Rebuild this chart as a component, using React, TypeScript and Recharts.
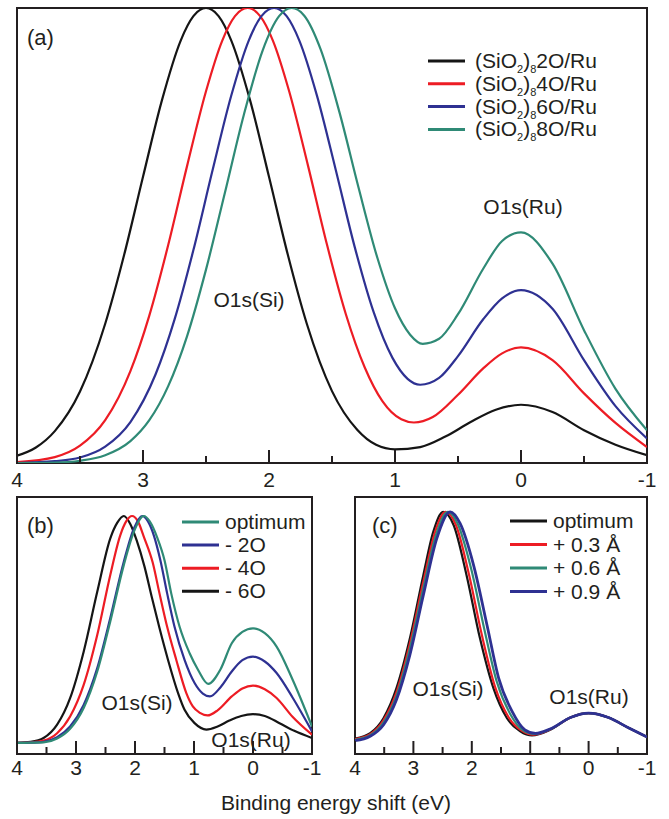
import { Line, LineChart, ReferenceArea, XAxis, YAxis } from "recharts";

type Pt = [number, number];

const INK = "#231f20";
const BLACK = "#151515";
const RED = "#ed1c24";
const BLUE = "#2e3192";
const GREEN = "#2f8a76";
const FONT = '"Liberation Sans", Arial, Helvetica, sans-serif';

const majorTicks = [4, 3, 2, 1, 0, -1];
const minorTicks = [3.5, 2.5, 1.5, 0.5, -0.5];

// (a) intensity vs binding energy shift, normalised to the frame height
const a2O: Pt[] = [
  [4, 0.016], [3.85, 0.034], [3.7, 0.07], [3.5, 0.157], [3.3, 0.306], [3.15, 0.457],
  [3, 0.629], [2.85, 0.797], [2.7, 0.929], [2.6, 0.982], [2.5, 1], [2.4, 0.982],
  [2.3, 0.929], [2.15, 0.797], [2, 0.629], [1.85, 0.457], [1.7, 0.306], [1.5, 0.158],
  [1.3, 0.073], [1.15, 0.04], [1, 0.03], [0.8, 0.035], [0.6, 0.058], [0.4, 0.09],
  [0.2, 0.117], [0, 0.128], [-0.25, 0.112], [-0.5, 0.072], [-0.75, 0.04], [-1, 0.017],
];
const a4O: Pt[] = [
  [4, 0.002], [3.7, 0.013], [3.5, 0.038], [3.3, 0.094], [3.1, 0.202], [2.95, 0.324],
  [2.8, 0.479], [2.65, 0.653], [2.5, 0.817], [2.37, 0.929], [2.27, 0.982], [2.17, 1],
  [2.07, 0.982], [1.97, 0.929], [1.84, 0.817], [1.69, 0.653], [1.54, 0.48], [1.39, 0.327],
  [1.24, 0.21], [1.1, 0.136], [0.95, 0.096], [0.85, 0.089], [0.7, 0.101], [0.5, 0.15],
  [0.3, 0.208], [0.15, 0.241], [0, 0.254], [-0.25, 0.226], [-0.5, 0.153], [-0.75, 0.088],
  [-1, 0.035],
];
const a6O: Pt[] = [
  [4, 0], [3.7, 0.004], [3.5, 0.012], [3.3, 0.036], [3.1, 0.09], [2.9, 0.195],
  [2.75, 0.315], [2.6, 0.468], [2.45, 0.641], [2.3, 0.807], [2.16, 0.929], [2.06, 0.982],
  [1.96, 1], [1.86, 0.982], [1.76, 0.929], [1.62, 0.808], [1.47, 0.644], [1.32, 0.475],
  [1.17, 0.332], [1.02, 0.231], [0.9, 0.185], [0.8, 0.172], [0.65, 0.187], [0.5, 0.235],
  [0.3, 0.316], [0.15, 0.362], [0, 0.38], [-0.25, 0.339], [-0.5, 0.226], [-0.75, 0.125],
  [-1, 0.054],
];
const a8O: Pt[] = [
  [4, 0], [3.7, 0.001], [3.5, 0.005], [3.3, 0.017], [3.1, 0.048], [2.95, 0.094],
  [2.8, 0.169], [2.65, 0.279], [2.5, 0.425], [2.35, 0.594], [2.2, 0.765], [2.05, 0.907],
  [1.92, 0.982], [1.82, 1], [1.72, 0.983], [1.59, 0.909], [1.44, 0.77], [1.29, 0.606],
  [1.14, 0.451], [1, 0.34], [0.88, 0.282], [0.78, 0.262], [0.65, 0.273], [0.5, 0.327],
  [0.3, 0.427], [0.15, 0.488], [0, 0.507], [-0.25, 0.438], [-0.5, 0.292], [-0.75, 0.163],
  [-1, 0.072],
];

// (b) removing O atoms
const bOpt: Pt[] = [
  [4, 0.043], [3.77, 0.044], [3.55, 0.045], [3.32, 0.06], [3.1, 0.098], [2.87, 0.179],
  [2.64, 0.321], [2.42, 0.515], [2.19, 0.735], [2.02, 0.864], [1.85, 0.926], [1.75, 0.905],
  [1.62, 0.84], [1.5, 0.754], [1.386, 0.625], [1.244, 0.495], [1.074, 0.392], [0.93, 0.327],
  [0.76, 0.273], [0.55, 0.33], [0.36, 0.431], [0.18, 0.475], [0, 0.489], [-0.2, 0.47],
  [-0.4, 0.418], [-0.67, 0.29], [-1, 0.107],
];
const bM2O: Pt[] = [
  [4, 0.043], [3.77, 0.044], [3.55, 0.047], [3.32, 0.065], [3.1, 0.107], [2.87, 0.191],
  [2.64, 0.334], [2.42, 0.528], [2.19, 0.748], [2.02, 0.877], [1.88, 0.926], [1.78, 0.905],
  [1.68, 0.85], [1.57, 0.754], [1.455, 0.625], [1.33, 0.495], [1.16, 0.366], [0.99, 0.276],
  [0.85, 0.235], [0.73, 0.224], [0.55, 0.26], [0.36, 0.321], [0.18, 0.365], [0, 0.379],
  [-0.2, 0.36], [-0.4, 0.315], [-0.67, 0.22], [-1, 0.088],
];
const bM4O: Pt[] = [
  [4, 0.043], [3.77, 0.045], [3.55, 0.052], [3.32, 0.081], [3.1, 0.146], [2.87, 0.269],
  [2.64, 0.463], [2.42, 0.696], [2.25, 0.851], [2.15, 0.905], [2.05, 0.926], [1.95, 0.905],
  [1.85, 0.845], [1.7, 0.745], [1.585, 0.625], [1.455, 0.495], [1.3, 0.366], [1.13, 0.237],
  [1.02, 0.185], [0.9, 0.16], [0.77, 0.15], [0.6, 0.17], [0.36, 0.224], [0.18, 0.255],
  [0, 0.266], [-0.2, 0.252], [-0.4, 0.218], [-0.67, 0.145], [-1, 0.075],
];
const bM6O: Pt[] = [
  [4, 0.043], [3.77, 0.047], [3.55, 0.062], [3.32, 0.114], [3.1, 0.217], [2.87, 0.398],
  [2.64, 0.631], [2.42, 0.838], [2.3, 0.9], [2.19, 0.926], [2.08, 0.895], [1.97, 0.83],
  [1.84, 0.73], [1.72, 0.615], [1.585, 0.49], [1.44, 0.366], [1.27, 0.237], [1.16, 0.172],
  [0.99, 0.12], [0.79, 0.095], [0.6, 0.107], [0.4, 0.13], [0.2, 0.148], [0, 0.155],
  [-0.2, 0.148], [-0.45, 0.12], [-0.7, 0.09], [-1, 0.062],
];

// (c) stretching the film
const cOpt: Pt[] = [
  [4, 0.06], [3.74, 0.081], [3.51, 0.14], [3.29, 0.256], [3.06, 0.45], [2.83, 0.696],
  [2.66, 0.864], [2.49, 0.942], [2.31, 0.89], [2.09, 0.696], [1.86, 0.45], [1.63, 0.256],
  [1.4, 0.14], [1.17, 0.088], [0.97, 0.072], [0.66, 0.094], [0.31, 0.142], [0, 0.159],
  [-0.34, 0.142], [-0.69, 0.101], [-1, 0.066],
];
const c03: Pt[] = [
  [4, 0.058], [3.74, 0.077], [3.51, 0.132], [3.29, 0.24], [3.06, 0.43], [2.83, 0.67],
  [2.62, 0.87], [2.45, 0.942], [2.27, 0.89], [2.05, 0.7], [1.82, 0.455], [1.6, 0.26],
  [1.37, 0.143], [1.14, 0.09], [0.95, 0.075], [0.66, 0.095], [0.31, 0.142], [0, 0.159],
  [-0.34, 0.142], [-0.69, 0.101], [-1, 0.066],
];
const c06: Pt[] = [
  [4, 0.055], [3.74, 0.073], [3.51, 0.123], [3.29, 0.225], [3.06, 0.41], [2.83, 0.645],
  [2.61, 0.855], [2.41, 0.942], [2.24, 0.895], [2.01, 0.72], [1.78, 0.48], [1.57, 0.28],
  [1.34, 0.155], [1.12, 0.092], [0.93, 0.078], [0.66, 0.096], [0.31, 0.142], [0, 0.159],
  [-0.34, 0.142], [-0.69, 0.101], [-1, 0.066],
];
const c09: Pt[] = [
  [4, 0.052], [3.74, 0.069], [3.51, 0.114], [3.29, 0.211], [3.06, 0.386], [2.83, 0.618],
  [2.6, 0.838], [2.37, 0.942], [2.2, 0.897], [1.97, 0.735], [1.74, 0.502], [1.54, 0.295],
  [1.31, 0.166], [1.09, 0.094], [0.91, 0.08], [0.66, 0.097], [0.31, 0.142], [0, 0.159],
  [-0.34, 0.142], [-0.69, 0.101], [-1, 0.066],
];

type Series = { name: string; color: string; pts: Pt[]; width?: number };

const seriesA: Series[] = [
  { name: "2O", color: BLACK, pts: a2O },
  { name: "4O", color: RED, pts: a4O },
  { name: "6O", color: BLUE, pts: a6O },
  { name: "8O", color: GREEN, pts: a8O },
];
// drawing order; legend order is reversed below
const seriesB: Series[] = [
  { name: "- 6O", color: BLACK, pts: bM6O },
  { name: "- 4O", color: RED, pts: bM4O },
  { name: "- 2O", color: BLUE, pts: bM2O },
  { name: "optimum", color: GREEN, pts: bOpt },
];
const seriesC: Series[] = [
  { name: "optimum", color: BLACK, pts: cOpt },
  { name: "+ 0.3 Å", color: RED, pts: c03 },
  { name: "+ 0.6 Å", color: GREEN, pts: c06 },
  { name: "+ 0.9 Å", color: BLUE, pts: c09, width: 2.8 },
];

const toRows = (pts: Pt[]) => pts.map(([x, y]) => ({ x, y }));

function TickLabel(props: any) {
  const { x, y, payload, gap } = props;
  return (
    <text x={x} y={Number(y) + gap} textAnchor="middle" fontSize={21} fontFamily={FONT} fill={INK}>
      {payload.value}
    </text>
  );
}

type Box = { left: number; right: number; bottom: number };

function Panel(props: {
  w: number;
  h: number;
  margin: { top: number; right: number; bottom: number; left: number };
  series: Series[];
  gap: number;
}) {
  const { w, h, margin, series, gap } = props;
  return (
    <LineChart width={w} height={h} margin={margin}>
      <XAxis
        dataKey="x"
        type="number"
        domain={[-1, 4]}
        reversed
        ticks={majorTicks}
        interval={0}
        tickSize={0}
        tickMargin={0}
        tickLine={false}
        axisLine={false}
        height={30}
        allowDataOverflow
        tick={(p: any) => <TickLabel {...p} gap={gap} />}
      />
      <YAxis type="number" domain={[0, 1]} hide allowDataOverflow />
      {series.map((s) => (
        <Line
          key={s.name}
          data={toRows(s.pts)}
          dataKey="y"
          type="monotone"
          stroke={s.color}
          strokeWidth={s.width ?? 2.2}
          dot={false}
          activeDot={false}
          isAnimationActive={false}
        />
      ))}
      <ReferenceArea x1={-1} x2={4} y1={0} y2={1} fill="none" stroke={INK} strokeWidth={2} />
    </LineChart>
  );
}

// inward tick marks along the bottom edge of a panel (axis runs 4 -> -1)
function TickMarks({ box }: { box: Box }) {
  const sx = (v: number) => box.left + ((4 - v) / 5) * (box.right - box.left);
  return (
    <g stroke={INK} strokeWidth={2}>
      {majorTicks.map((t) => (
        <line key={`M${t}`} x1={sx(t)} x2={sx(t)} y1={box.bottom} y2={box.bottom - 13} />
      ))}
      {minorTicks.map((t) => (
        <line key={`m${t}`} x1={sx(t)} x2={sx(t)} y1={box.bottom} y2={box.bottom - 7} />
      ))}
    </g>
  );
}

function LegendRows(props: { x: number; y: number; step: number; series: Series[]; sio?: boolean }) {
  const { x, y, step, series, sio } = props;
  return (
    <g>
      {series.map((s, i) => {
        const cy = y + i * step;
        return (
          <g key={s.name}>
            <line x1={x} x2={x + 37} y1={cy} y2={cy} stroke={s.color} strokeWidth={3} />
            {sio ? (
              <text x={x + 47} y={cy + 7} fontSize={21} fontFamily={FONT} fill={INK}>
                (SiO
                <tspan dy={5} fontSize={11}>2</tspan>
                <tspan dy={-5}>)</tspan>
                <tspan dy={5} fontSize={11}>8</tspan>
                <tspan dy={-5}>{s.name}/Ru</tspan>
              </text>
            ) : (
              <text x={x + 43} y={cy + 7} fontSize={21} fontFamily={FONT} fill={INK}>
                {s.name}
              </text>
            )}
          </g>
        );
      })}
    </g>
  );
}

const txt = { fontFamily: FONT, fill: INK } as const;

export default function App() {
  return (
    <div
      style={{
        position: "absolute",
        left: 0,
        top: 0,
        width: 669,
        height: 819,
        background: "#fff",
        fontFamily: FONT,
      }}
    >
      <div style={{ position: "absolute", left: 0, top: 0 }}>
        <Panel w={669} h={500} margin={{ top: 8, right: 22, bottom: 7, left: 17 }} series={seriesA} gap={24} />
      </div>
      <div style={{ position: "absolute", left: 0, top: 480 }}>
        <Panel w={335} h={310} margin={{ top: 17, right: 23, bottom: 6, left: 17 }} series={seriesB} gap={21} />
      </div>
      <div style={{ position: "absolute", left: 340, top: 480 }}>
        <Panel w={329} h={310} margin={{ top: 17, right: 22, bottom: 6, left: 15 }} series={seriesC} gap={21} />
      </div>
      <svg
        width={669}
        height={819}
        style={{ position: "absolute", left: 0, top: 0, pointerEvents: "none" }}
      >
        <TickMarks box={{ left: 17, right: 647, bottom: 463 }} />
        <TickMarks box={{ left: 17, right: 312, bottom: 754 }} />
        <TickMarks box={{ left: 355, right: 647, bottom: 754 }} />

        <text x={27} y={45} fontSize={22} {...txt}>(a)</text>
        <text x={249} y={307} fontSize={21} textAnchor="middle" {...txt}>O1s(Si)</text>
        <text x={523} y={214} fontSize={21} textAnchor="middle" {...txt}>O1s(Ru)</text>
        <LegendRows x={428} y={61} step={22.8} series={seriesA} sio />

        <text x={27} y={533} fontSize={22} {...txt}>(b)</text>
        <text x={137} y={710} fontSize={21} textAnchor="middle" {...txt}>O1s(Si)</text>
        <text x={251} y={747} fontSize={21} textAnchor="middle" {...txt}>O1s(Ru)</text>
        <LegendRows x={182} y={522} step={23.1} series={[...seriesB].reverse()} />

        <text x={372} y={533} fontSize={22} {...txt}>(c)</text>
        <text x={448} y={696} fontSize={21} textAnchor="middle" {...txt}>O1s(Si)</text>
        <text x={589} y={704} fontSize={21} textAnchor="middle" {...txt}>O1s(Ru)</text>
        <LegendRows x={510} y={521} step={23.5} series={seriesC} />

        <text x={336} y={810} fontSize={21} textAnchor="middle" {...txt}>Binding energy shift (eV)</text>
      </svg>
    </div>
  );
}
